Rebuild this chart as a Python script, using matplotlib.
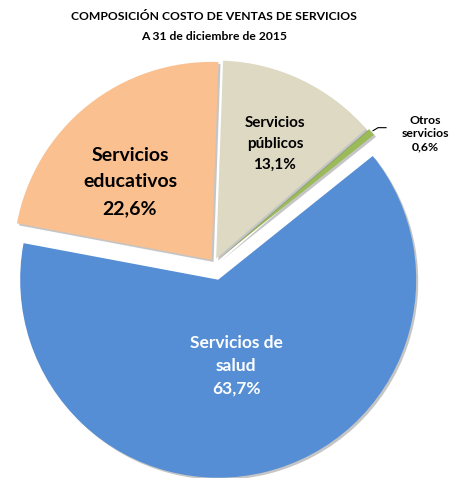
import math
import matplotlib
matplotlib.use("Agg")
import matplotlib.pyplot as plt
from matplotlib import patheffects as pe

plt.rcParams['font.family'] = ['Lato', 'DejaVu Sans']

# Composition of service cost of sales, 31 Dec 2015
categories = ["Servicios\neducativos", "Servicios de\nsalud", "Otros\nservicios", "Servicios\npúblicos"]
shares = [22.6, 63.7, 0.6, 13.1]
colors = ["#FAC090", "#558ED5", "#9BBB59", "#DDD9C3"]
explode = [0.02, 0.087, 0.035, 0.025]   # fraction of the radius

W, H = 449, 478
fig = plt.figure(figsize=(W / 100, H / 100), dpi=100)
ax = fig.add_axes([0, 0, 1, 1])

R = 198
cx, cy = 214, H - 263

wedges, _ = ax.pie(shares, colors=colors, startangle=88, counterclock=True,
                   explode=[e * R for e in explode], radius=R, center=(cx, cy),
                   wedgeprops=dict(linewidth=0), frame=True)
ax.set_xlim(0, W)
ax.set_ylim(0, H)
ax.set_aspect('equal')
ax.axis('off')
for w in wedges:
    w.set_path_effects([pe.SimplePatchShadow(offset=(1.5, -1.5), shadow_rgbFace='#808080', alpha=0.45),
                        pe.Normal()])

def fmt(v):
    return f"{v:.1f}".replace(".", ",") + "%"

# label placement: (radius fraction, angle offset in degrees, font size, colour, line spacing)
label_style = [
    (0.57, 7.6, 14, 'black', 1.68),
    (0.445, -2.3, 12.5, 'white', 1.5),
    (None, 0, 8.8, 'black', 1.2),
    (0.65, -1.6, 11, 'black', 1.64),
]
for w, name, val, (rf, da, fs, col, ls) in zip(wedges, categories, shares, label_style):
    ang = math.radians((w.theta1 + w.theta2) / 2 + da)
    wx, wy = w.center
    if rf is None:
        # small slice: label outside with a short leader line
        x0 = wx + R * 1.01 * math.cos(ang)
        y0 = wy + R * 1.01 * math.sin(ang)
        ax.plot([x0, x0 + 5, x0 + 13], [y0, y0 + 3, y0 + 3], color='black', lw=0.8)
        ax.text(x0 + 52, y0 - 3, f"{name}\n{fmt(val)}", ha='center', va='center',
                fontsize=fs, fontweight='bold', color=col, linespacing=ls)
        continue
    tx = wx + R * rf * math.cos(ang)
    ty = wy + R * rf * math.sin(ang)
    ax.text(tx, ty, f"{name}\n{fmt(val)}", ha='center', va='center',
            fontsize=fs, fontweight='bold', color=col, linespacing=ls)

fig.text(0.477, 1 - 17 / H, "COMPOSICIÓN COSTO DE VENTAS DE SERVICIOS",
         ha='center', va='center', fontsize=8.7, fontweight='bold')
fig.text(0.477, 1 - 36 / H, "A 31 de diciembre de 2015",
         ha='center', va='center', fontsize=8.7, fontweight='bold')

fig.savefig("out.png", dpi=100, facecolor='white')
